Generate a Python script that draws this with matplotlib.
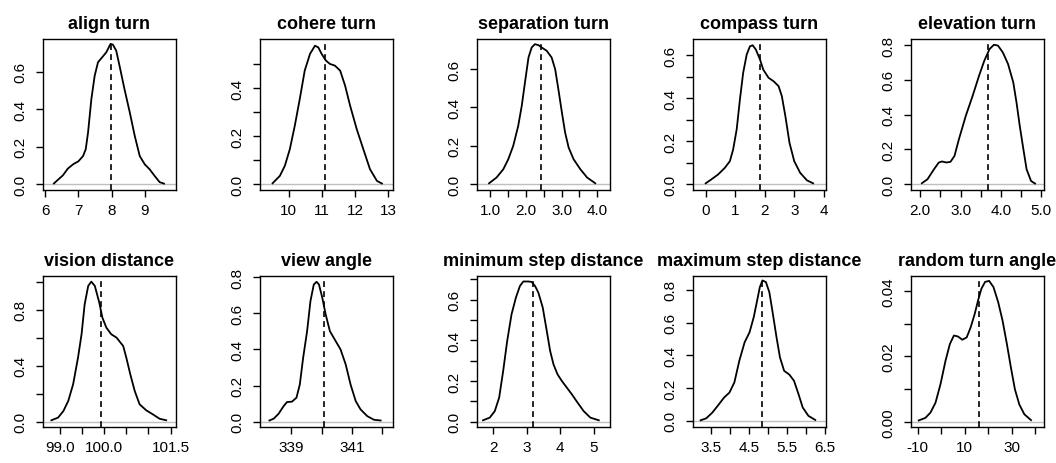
import numpy as np
import matplotlib
matplotlib.use('Agg')
import matplotlib.pyplot as plt

plt.rcParams['font.family'] = ['Liberation Sans', 'DejaVu Sans']

# Panel titles
titles = ['align turn', 'cohere turn', 'separation turn', 'compass turn', 'elevation turn',
          'vision distance', 'view angle', 'minimum step distance', 'maximum step distance',
          'random turn angle']

# Density curves
align_x = [6.26, 6.53, 6.68, 6.84, 7.00, 7.14, 7.22, 7.29, 7.39, 7.49, 7.59, 7.69, 7.84,
           7.97, 8.04, 8.14, 8.24, 8.39, 8.55, 8.70, 8.85, 9.00, 9.15, 9.30, 9.45, 9.58]
align_y = [0.005, 0.048, 0.084, 0.107, 0.123, 0.151, 0.187, 0.276, 0.454, 0.578, 0.650, 0.671,
           0.703, 0.748, 0.744, 0.712, 0.632, 0.507, 0.383, 0.258, 0.151, 0.107, 0.080, 0.045,
           0.012, 0.004]

cohere_x = [9.51, 9.73, 9.88, 10.03, 10.18, 10.33, 10.48, 10.64, 10.79, 10.89, 10.99, 11.12,
            11.24, 11.39, 11.55, 11.70, 11.85, 12.05, 12.25, 12.45, 12.66, 12.81]
cohere_y = [0.004, 0.035, 0.077, 0.146, 0.244, 0.355, 0.474, 0.544, 0.578, 0.571, 0.544, 0.516,
            0.502, 0.495, 0.474, 0.411, 0.328, 0.230, 0.146, 0.063, 0.014, 0.003]

separation_x = [0.96, 1.17, 1.36, 1.50, 1.64, 1.78, 1.88, 1.97, 2.07, 2.16, 2.25, 2.35, 2.44,
                2.58, 2.72, 2.82, 2.91, 3.01, 3.10, 3.20, 3.34, 3.53, 3.72, 3.95]
separation_y = [0.005, 0.035, 0.078, 0.130, 0.200, 0.304, 0.409, 0.530, 0.661, 0.713, 0.730,
                0.725, 0.713, 0.696, 0.661, 0.600, 0.496, 0.374, 0.270, 0.191, 0.130, 0.078,
                0.035, 0.005]

compass_x = [0.00, 0.19, 0.42, 0.65, 0.82, 0.93, 1.05, 1.16, 1.27, 1.39, 1.50, 1.59, 1.70,
             1.84, 1.95, 2.13, 2.30, 2.47, 2.58, 2.70, 2.84, 3.00, 3.20, 3.43, 3.64]
compass_y = [0.005, 0.023, 0.046, 0.077, 0.108, 0.162, 0.255, 0.394, 0.518, 0.603, 0.641, 0.646,
             0.626, 0.580, 0.533, 0.495, 0.479, 0.456, 0.410, 0.317, 0.193, 0.108, 0.054,
             0.019, 0.005]

elevation_x = [2.04, 2.18, 2.34, 2.46, 2.54, 2.65, 2.75, 2.85, 2.96, 3.13, 3.30, 3.46, 3.59,
               3.72, 3.83, 3.93, 4.05, 4.18, 4.31, 4.39, 4.47, 4.56, 4.64, 4.75, 4.85]
elevation_y = [0.006, 0.029, 0.086, 0.125, 0.131, 0.125, 0.129, 0.163, 0.259, 0.393, 0.508,
               0.624, 0.710, 0.777, 0.802, 0.797, 0.758, 0.691, 0.585, 0.470, 0.336, 0.202,
               0.086, 0.019, 0.004]

vision_x = [98.81, 98.96, 99.08, 99.19, 99.30, 99.41, 99.49, 99.56, 99.64, 99.71, 99.79, 99.89,
            99.96, 100.05, 100.16, 100.28, 100.43, 100.50, 100.59, 100.69, 100.80, 100.95,
            101.10, 101.25, 101.40]
vision_y = [0.010, 0.029, 0.076, 0.148, 0.267, 0.457, 0.624, 0.838, 0.969, 1.000, 0.969, 0.850,
            0.743, 0.671, 0.624, 0.600, 0.540, 0.457, 0.338, 0.219, 0.124, 0.081, 0.052,
            0.021, 0.010]

view_x = [338.28, 338.42, 338.58, 338.75, 338.86, 339.02, 339.17, 339.28, 339.39, 339.52,
          339.63, 339.74, 339.83, 339.91, 340.02, 340.13, 340.27, 340.46, 340.62, 340.79,
          340.95, 341.12, 341.28, 341.50, 341.72, 341.94]
view_y = [0.007, 0.017, 0.044, 0.087, 0.109, 0.111, 0.133, 0.206, 0.354, 0.501, 0.667, 0.759,
          0.774, 0.759, 0.686, 0.594, 0.501, 0.446, 0.400, 0.317, 0.206, 0.114, 0.068, 0.031,
          0.011, 0.007]

minstep_x = [1.70, 1.90, 2.05, 2.18, 2.30, 2.42, 2.55, 2.68, 2.80, 2.90, 3.05, 3.15, 3.25,
             3.35, 3.48, 3.60, 3.70, 3.80, 3.92, 4.05, 4.20, 4.35, 4.50, 4.70, 4.90, 5.15]
minstep_y = [0.007, 0.020, 0.052, 0.118, 0.249, 0.397, 0.528, 0.610, 0.667, 0.689, 0.689, 0.687,
             0.667, 0.634, 0.561, 0.446, 0.348, 0.282, 0.233, 0.200, 0.167, 0.134, 0.098,
             0.052, 0.020, 0.007]

maxstep_x = [3.23, 3.38, 3.54, 3.68, 3.85, 3.99, 4.12, 4.25, 4.39, 4.52, 4.63, 4.72, 4.79,
             4.86, 4.95, 5.04, 5.12, 5.23, 5.32, 5.43, 5.57, 5.69, 5.81, 5.92, 6.07, 6.25]
maxstep_y = [0.004, 0.016, 0.051, 0.092, 0.143, 0.173, 0.235, 0.367, 0.480, 0.541, 0.633, 0.735,
             0.816, 0.857, 0.847, 0.786, 0.673, 0.510, 0.388, 0.306, 0.282, 0.245, 0.163,
             0.082, 0.031, 0.006]

random_x = [-9.57, -6.71, -4.57, -2.43, -0.29, 1.86, 3.71, 5.43, 7.14, 9.00, 10.86, 12.57,
            14.29, 15.71, 17.14, 18.71, 20.43, 22.29, 24.29, 26.14, 28.00, 29.71, 31.43,
            33.29, 35.43, 38.29]
random_y = [0.0004, 0.0012, 0.0028, 0.0058, 0.0115, 0.0187, 0.0238, 0.0264, 0.0261, 0.0251,
            0.0258, 0.0289, 0.0330, 0.0371, 0.0407, 0.0428, 0.0431, 0.0412, 0.0366, 0.0310,
            0.0238, 0.0166, 0.0099, 0.0053, 0.0023, 0.0005]

# Dashed reference lines
ref_vals = [7.98, 11.10, 2.42, 1.84, 3.68, 99.94, 340.07, 3.18, 4.85, 16.1]

curves_x = [align_x, cohere_x, separation_x, compass_x, elevation_x,
            vision_x, view_x, minstep_x, maxstep_x, random_x]
curves_y = [align_y, cohere_y, separation_y, compass_y, elevation_y,
            vision_y, view_y, minstep_y, maxstep_y, random_y]

# Ticks and which of them carry labels
x_ticks = [[6, 7, 8, 9], [10, 11, 12, 13], [1.0, 1.5, 2.0, 2.5, 3.0, 3.5, 4.0],
           [0, 1, 2, 3, 4], [2.0, 2.5, 3.0, 3.5, 4.0, 4.5, 5.0],
           [99.0, 99.5, 100.0, 100.5, 101.0, 101.5], [339, 340, 341, 342],
           [2, 3, 4, 5], [3.5, 4.0, 4.5, 5.0, 5.5, 6.0, 6.5], [-10, 0, 10, 20, 30, 40]]
x_labels = [['6', '7', '8', '9'], ['10', '11', '12', '13'],
            ['1.0', '', '2.0', '', '3.0', '', '4.0'], ['0', '1', '2', '3', '4'],
            ['2.0', '', '3.0', '', '4.0', '', '5.0'],
            ['99.0', '', '100.0', '', '', '101.5'], ['339', '', '341', ''],
            ['2', '3', '4', '5'], ['3.5', '', '4.5', '', '5.5', '', '6.5'],
            ['-10', '', '10', '', '30', '']]
y_ticks = [[0, 0.2, 0.4, 0.6], [0, 0.1, 0.2, 0.3, 0.4, 0.5], [0, 0.2, 0.4, 0.6],
           [0, 0.1, 0.2, 0.3, 0.4, 0.5, 0.6], [0, 0.2, 0.4, 0.6, 0.8],
           [0, 0.2, 0.4, 0.6, 0.8, 1.0], [0, 0.2, 0.4, 0.6, 0.8],
           [0, 0.1, 0.2, 0.3, 0.4, 0.5, 0.6, 0.7], [0, 0.2, 0.4, 0.6, 0.8],
           [0, 0.01, 0.02, 0.03, 0.04]]
y_labels = [['0.0', '0.2', '0.4', '0.6'], ['0.0', '', '0.2', '', '0.4', ''],
            ['0.0', '0.2', '0.4', '0.6'], ['0.0', '', '0.2', '', '0.4', '', '0.6'],
            ['0.0', '0.2', '0.4', '0.6', '0.8'], ['0.0', '', '0.4', '', '0.8', ''],
            ['0.0', '0.2', '0.4', '0.6', '0.8'],
            ['0.0', '', '0.2', '', '0.4', '', '0.6', ''],
            ['0.0', '0.2', '0.4', '0.6', '0.8'], ['0.00', '', '0.02', '', '0.04']]

# Axis ranges
x_lims = [(5.93, 9.93), (9.13, 13.13), (0.62, 4.35), (-0.43, 4.06), (1.77, 5.06),
          (98.62, 101.61), (337.97, 342.33), (1.52, 5.47), (3.03, 6.52), (-12.86, 43.6)]
y_lims = [(-0.030, 0.774), (-0.024, 0.606), (-0.030, 0.757), (-0.026, 0.675), (-0.033, 0.835),
          (-0.038, 1.040), (-0.029, 0.806), (-0.026, 0.716), (-0.037, 0.884), (-0.0016, 0.0446)]

W, H = 1056, 464
fig = plt.figure(figsize=(W / 100, H / 100), dpi=100)

lefts = [43, 260, 477, 693, 911]
tops = [40, 277]
bw, bh = 132.5, 151

for i in range(10):
    r, c = divmod(i, 5)
    ax = fig.add_axes([lefts[c] / W, 1 - (tops[r] + bh) / H, bw / W, bh / H])
    ax.axhline(0, color='#bebebe', lw=1.0, zorder=1)
    ax.plot(curves_x[i], curves_y[i], color='black', lw=1.3, zorder=3)
    ax.axvline(ref_vals[i], color='black', lw=1.2, ls=(0, (3.5, 2.5)), zorder=2)
    ax.set_xlim(*x_lims[i])
    ax.set_ylim(*y_lims[i])
    ax.set_xticks(x_ticks[i])
    ax.set_xticklabels(x_labels[i])
    ax.set_yticks(y_ticks[i])
    ax.set_yticklabels(y_labels[i])
    ax.tick_params(direction='out', length=5, width=1, labelsize=11, color='black')
    ax.tick_params(axis='x', pad=4.5)
    ax.tick_params(axis='y', pad=6, labelrotation=90)
    for lab in ax.get_yticklabels():
        lab.set_va('center')
    for sp in ax.spines.values():
        sp.set_linewidth(1.0)
    ax.set_title(titles[i], fontsize=13, fontweight='bold', pad=8)

fig.savefig('out.png', dpi=100)
